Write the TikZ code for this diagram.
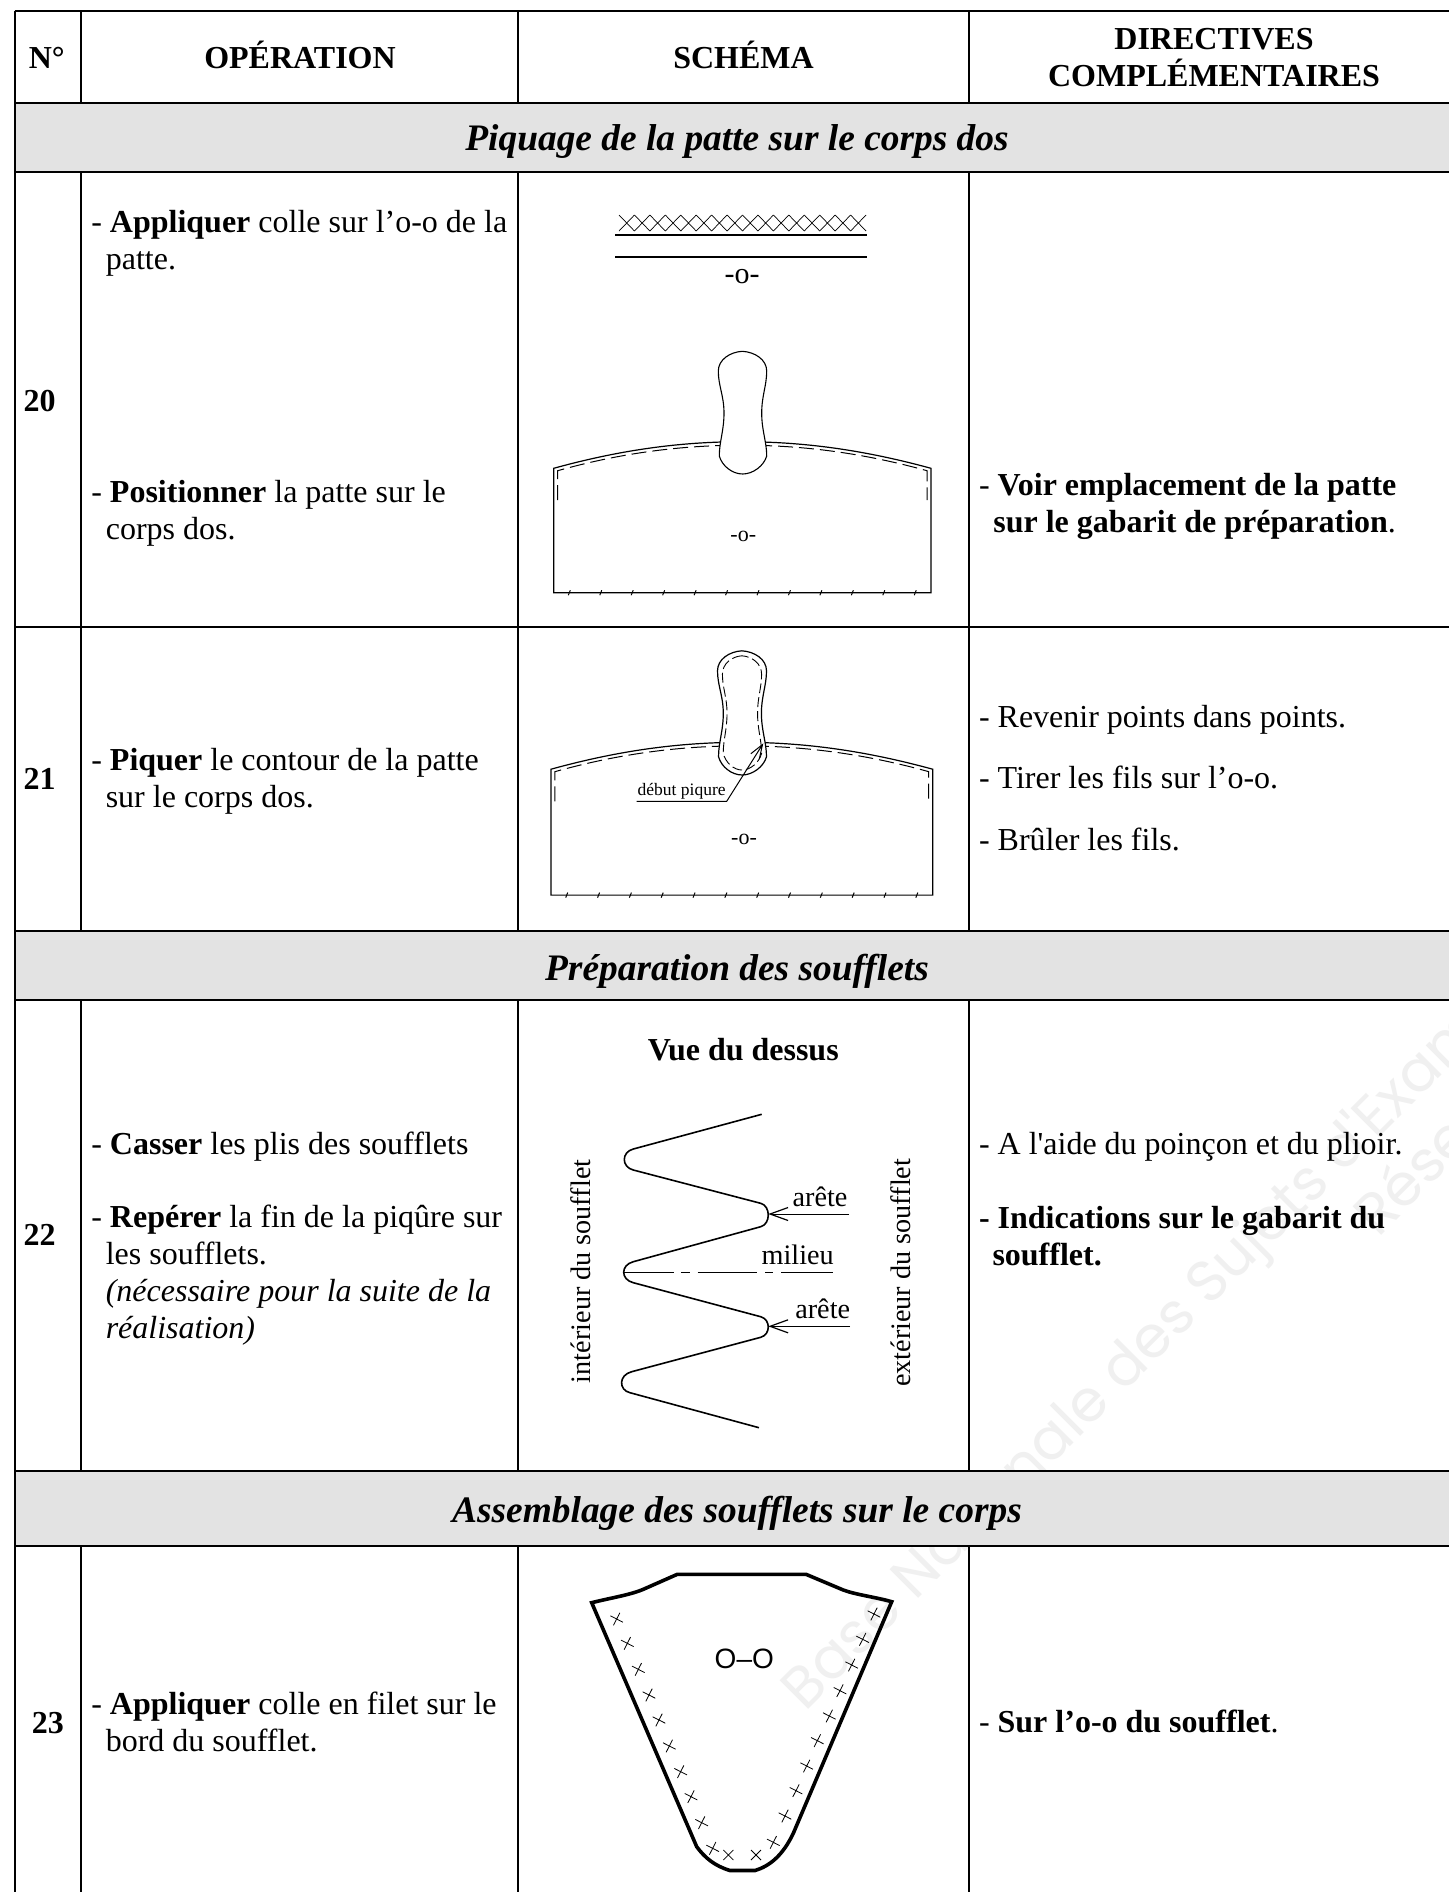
\documentclass[tikz,border=0pt]{standalone}
\usepackage{fontspec}
\setmainfont{Liberation Serif}
\newfontfamily\plainf{Liberation Serif}
\newfontfamily\wmfont{Poppins}
\newfontfamily\sansf{Liberation Sans}
\usetikzlibrary{arrows.meta}
\definecolor{bandgray}{HTML}{E3E3E3}
\definecolor{wmgray}{HTML}{F0F0F0}
\tikzset{
  x=0.5pt,y=-0.5pt,
  grid/.style={line width=1pt,black},
  tl/.style={anchor=base west,inner sep=0pt,outer sep=0pt,font=\fontsize{16}{18}\selectfont},
  tc/.style={anchor=base,inner sep=0pt,outer sep=0pt,font=\fontsize{16}{18}\selectfont},
  band/.style={anchor=base,inner sep=0pt,outer sep=0pt,font=\fontsize{18.7}{20}\selectfont\bfseries\itshape},
  small/.style={anchor=base,inner sep=0pt,outer sep=0pt,font=\fontsize{14.1}{16}\selectfont},
  pieceline/.style={line width=0.6pt,black},
  seam/.style={line width=0.5pt,black,dash pattern=on 7.5pt off 3pt},
  fold/.style={line width=0.8pt,black,line join=round},
  leader/.style={line width=0.5pt,black},
  barb/.style={-{Straight Barb[length=9pt,width=6.5pt,line width=0.6pt]}},
  barbs/.style={-{Straight Barb[length=7pt,width=5pt,line width=0.5pt]}},
  wm/.style={anchor=base west,inner sep=0pt,outer sep=0pt,text=wmgray,font=\fontsize{29}{32}\selectfont\wmfont,rotate=45},
}
\newcommand{\pattepath}[1]{%
  \path[#1] (0.3,-90.4) .. controls (-12,-89.7) and (-23.7,-82) .. (-23.7,-70.7)
    .. controls (-23.7,-56) and (-18,-46) .. (-18,-28.7)
    .. controls (-18,-11) and (-22.7,0) .. (-22.7,14.3)
    .. controls (-20,24) and (-10,32.3) .. (0.7,32.3)
    .. controls (11,32.3) and (22,24) .. (24.7,14.3)
    .. controls (24.7,0) and (19.7,-11) .. (19.7,-28.7)
    .. controls (19.7,-46) and (24.7,-56) .. (24.7,-70.7)
    .. controls (24.7,-82) and (13,-89.7) .. (0.3,-90.4) -- cycle;}
\newcommand{\bodypiece}{%
  \draw[pieceline] (-188.3,26.6) .. controls (-122,8.3) and (-62,0) .. (0,0)
    .. controls (62,0) and (122,8.3) .. (189,26.6) -- (189,151) -- (-188.3,151) -- cycle;
  \draw[seam] (-184.3,58.3) -- (-184.3,29) .. controls (-120,11) and (-60,3.5) .. (0,3.5)
    .. controls (60,3.5) and (120,11) .. (185,29) -- (185,58.3);
  \foreach \tk in {0,...,11}{
    \draw[line width=0.5pt] ({-172.7+31.45*\tk-1},153.5) -- ({-172.7+31.45*\tk+1},148.5);
  }
}
\begin{document}
\begin{tikzpicture}
\path[use as bounding box] (0,0) rectangle (1449,1892);
\fill[white] (0,0) rectangle (1449,1892);

% watermark
\begin{scope}
\clip (0,0) rectangle (1449,1892);
\node[wm] (wmA) at (805,1712) {Base Nationale des Sujets d'Examens};
\node[wm] (wmB) at (1378,1238) {Réseau};
\end{scope}

% bands
\fill[bandgray] (14.5,103) rectangle (1449,172);
\fill[bandgray] (14.5,931) rectangle (1449,1000);
\fill[bandgray] (14.5,1471) rectangle (1449,1546);

% grid
\foreach \yy in {11,103,172,627,931,1000,1471,1546}{
  \draw[grid] (14.5,\yy) -- (1449,\yy);
}
\draw[grid] (14.5,11) -- (14.5,1892);
\foreach \xx in {81,518,969}{
  \draw[grid] (\xx,11) -- (\xx,103);
  \draw[grid] (\xx,172) -- (\xx,931);
  \draw[grid] (\xx,1000) -- (\xx,1471);
  \draw[grid] (\xx,1546) -- (\xx,1892);
}

% header
\node[tc] (hN) at (46.8,68.3) {\textbf{N°}};
\node[tc] (hOp) at (300,68.3) {\textbf{OPÉRATION}};
\node[tc] (hSc) at (743.5,68.3) {\textbf{SCHÉMA}};
\node[tc] (hDa) at (1214,49.3) {\textbf{DIRECTIVES}};
\node[tc] (hDb) at (1214,86.7) {\textbf{COMPLÉMENTAIRES}};

% bands text
\node[band] (b1) at (737,150) {Piquage de la patte sur le corps dos};
\node[band] (b2) at (737,980) {Préparation des soufflets};
\node[band] (b3) at (737,1522) {Assemblage des soufflets sur le corps};

% numbers
\node[tl] (n20) at (23.7,411) {\textbf{20}};
\node[tl] (n21) at (23.7,789) {\textbf{21}};
\node[tl] (n22) at (23.7,1245) {\textbf{22}};
\node[tl] (n23) at (32,1733) {\textbf{23}};

% operation column
\node[tl] (o1) at (91.3,232) {- \textbf{Appliquer} colle sur l’o-o de la};
\node[tl] (o1b) at (105.8,269.5) {patte.};
\node[tl] (o2) at (91.3,502) {- \textbf{Positionner} la patte sur le};
\node[tl] (o2b) at (105.8,539) {corps dos.};
\node[tl] (o3) at (91.3,770.7) {- \textbf{Piquer} le contour de la patte};
\node[tl] (o3b) at (105.8,807.7) {sur le corps dos.};
\node[tl] (o4) at (91.3,1154.5) {- \textbf{Casser} les plis des soufflets};
\node[tl] (o5) at (91.3,1227) {- \textbf{Repérer} la fin de la piqûre sur};
\node[tl] (o5b) at (105.8,1264) {les soufflets.};
\node[tl] (o5c) at (105.8,1301) {\textit{(nécessaire pour la suite de la}};
\node[tl] (o5d) at (105.8,1338) {\textit{réalisation)}};
\node[tl] (o6) at (91.3,1714) {- \textbf{Appliquer} colle en filet sur le};
\node[tl] (o6b) at (105.8,1751) {bord du soufflet.};

% directives column
\node[tl] (d1) at (979,495) {- \textbf{Voir emplacement de la patte}};
\node[tl] (d1b) at (993.3,532.3) {\textbf{sur le gabarit de préparation}.};
\node[tl] (d2) at (979,727.3) {- Revenir points dans points.};
\node[tl] (d3) at (979,788.3) {- Tirer les fils sur l’o-o.};
\node[tl] (d4) at (979,850) {- Brûler les fils.};
\node[tl] (d5) at (979,1154) {\plainf - A l'aide du poinçon et du plioir.};
\node[tl] (d6) at (979,1228) {\textbf{- Indications sur le gabarit du}};
\node[tl] (d6b) at (992.5,1265) {\textbf{soufflet.}};
\node[tl] (d7) at (979,1732) {- \textbf{Sur l’o-o du soufflet}.};

% row 20 schema: glue crosses and lines
\foreach \i in {0,...,15}{
  \draw[line width=0.35pt] ({619+15.44*\i},215) -- ({619+15.44*(\i+1)},231)
                           ({619+15.44*\i},231) -- ({619+15.44*(\i+1)},215);
}
\draw[line width=1pt] (615,234.7) -- (867,234.7);
\draw[line width=1pt] (615,257) -- (867,257);
\node[tc,font=\fontsize{15}{17}\selectfont] (o20a) at (742,283) {-o-};

\begin{scope}[shift={(742,441.7)}]
  \bodypiece
  \pattepath{draw=black,fill=white,line width=0.55pt}
\end{scope}
\node[tc,font=\fontsize{11}{13}\selectfont] (o20b) at (743.3,541) {-o-};

% row 21 schema
\begin{scope}[shift={(741.5,742.3)},scale=1.012]
  \bodypiece
  \pattepath{draw=black,fill=white,line width=0.6pt}
  \begin{scope}[shift={(0.5,-29)},xscale=.8,yscale=.92,shift={(-0.5,29)}]
    \pattepath{draw=black,line width=0.45pt,dash pattern=on 5pt off 2pt}
  \end{scope}
\end{scope}
\node[tc,font=\fontsize{11}{13}\selectfont] (o21) at (744,844) {-o-};
\node[tl,font=\fontsize{8.75}{10}\selectfont] (dp) at (637.7,795) {début piqure};
\coordinate (dpA) at (636.7,801.3);
\coordinate (dpB) at (726.7,801.3);
\coordinate (dpC) at (763.3,743.3);
\draw[leader,barbs] (dpA) -- (dpB) -- (dpC);

% row 22 schema
\node[tc,font=\fontsize{16}{18}\selectfont\bfseries] (vue) at (743.3,1060.7) {Vue du dessus};
\draw[fold] (761.7,1114.3) -- (633.3,1149)
  .. controls (621.3,1152) and (621.3,1167) .. (633.3,1170)
  -- (760.7,1203.3) .. controls (770.8,1206) and (770.8,1224) .. (760.7,1226.7)
  -- (633.3,1261.7) .. controls (620.5,1265) and (620.5,1279.5) .. (633.3,1282.7)
  -- (760.7,1316.7) .. controls (770.8,1319.5) and (770.8,1334.5) .. (760.7,1337.3)
  -- (631.7,1371.7) .. controls (618.5,1375) and (618.5,1390) .. (630,1392.7)
  -- (759,1427.7);
\node[small] (ar1) at (820,1206) {arête};
\coordinate (ar1a) at (849,1214);
\coordinate (ar1b) at (768.3,1214);
\draw[leader,barb] (ar1a) -- (ar1b);
\node[small] (ar2) at (822.7,1318) {arête};
\coordinate (ar2a) at (850,1326.3);
\coordinate (ar2b) at (768.3,1326.3);
\draw[leader,barb] (ar2a) -- (ar2b);
\node[small] (mil) at (797.7,1264) {milieu};
\coordinate (mila) at (623.7,1272.7);
\coordinate (milb) at (832.7,1272.7);
\draw[leader,dash pattern=on 25pt off 3.6pt on 4.6pt off 3.8pt on 29.5pt off 4.2pt on 3.8pt off 4.2pt on 26pt] (mila) -- (milb);
\node[small,rotate=90] (inter) at (590.7,1271.3) {intérieur du soufflet};
\node[small,rotate=90] (exter) at (910,1272.8) {extérieur du soufflet};

% row 23 schema
\draw[line width=1.8pt,line join=miter] (591.7,1602.7) .. controls (610,1598) and (630,1595) .. (643.3,1589.3)
  -- (677.3,1574.3) -- (806,1574.3) -- (843.3,1590)
  .. controls (855,1594.5) and (875,1597) .. (891.7,1601.7)
  -- (793.3,1833.3) .. controls (783,1855) and (770,1866) .. (755,1870.5)
  -- (730,1870.5) .. controls (715,1866) and (705,1858) .. (696.7,1846.7)
  -- cycle;
\node[anchor=base,inner sep=0pt,outer sep=0pt,font=\fontsize{14}{16}\selectfont\sansf] (oo) at (744.3,1668.3) {O–O};
\begin{scope}[shift={(560,1530)},scale=1/3]
  \foreach \cx/\cy/\ca in {170/267/18,202/340/18,235/418/18,267/495/18,297/570/18,328/648/18,362/725/18,393/800/18,425/878/18,458/955/18,
      505/975/0,588/975/0,
      640/937/18,675/858/18,708/782/18,740/708/18,772/632/18,808/558/18,840/482/18,875/405/18,908/328/18,942/252/18}{
    \draw[line width=0.4pt,rotate around={\ca:(\cx,\cy)}] (\cx-15,\cy-15) -- (\cx+15,\cy+15) (\cx-15,\cy+15) -- (\cx+15,\cy-15);
  }
\end{scope}
\end{tikzpicture}
\end{document}
